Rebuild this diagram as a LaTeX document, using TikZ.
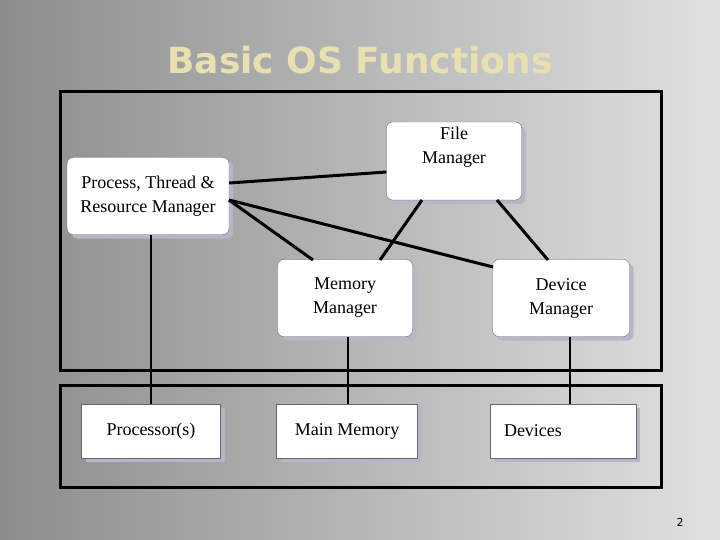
\documentclass[tikz,border=0pt]{standalone}
\usepackage{fontspec}
\setmainfont{Liberation Serif}
\newfontfamily\ttl{DejaVu Sans}
\usetikzlibrary{shadows}
\begin{document}
\begin{tikzpicture}[x=1pt,y=-1pt,
  box/.style={draw=black!60,fill=white,rounded corners=6pt,align=center,font=\fontsize{18}{24}\selectfont,
    drop shadow={shadow xshift=4pt,shadow yshift=-4pt,fill=blue!15!gray!50,opacity=1}},
  sq/.style={box,rounded corners=0pt},
  ln/.style={line width=3pt},
  frm/.style={draw=black,line width=3pt}]
\useasboundingbox (0,0) rectangle (720,540);
\shade[left color=black!45,right color=black!12] (0,0) rectangle (720,540);
\node[font=\ttl\fontsize{36}{38}\selectfont\bfseries,text={rgb,255:red,232;green,224;blue,176}] (title) at (360,60) {Basic OS Functions};
\draw[frm] (60,92) rectangle (661,370);
\draw[frm] (60,385) rectangle (661,487);
\node[box,minimum width=162pt,minimum height=77pt] (ptrm) at (148,196) {Process, Thread \&\\Resource Manager};
\node[box,minimum width=135pt,minimum height=78pt] (fm) at (454,161) {File\\Manager\\[8pt]};
\node[box,minimum width=135pt,minimum height=77pt] (mm) at (345,298) {Memory\\Manager};
\node[box,minimum width=137pt,minimum height=77pt] (dm) at (561,298) {Device\\Manager};
\node[sq,minimum width=139pt,minimum height=54pt] (pr) at (151,431) {Processor(s)};
\node[sq,minimum width=141pt,minimum height=54pt] (mem) at (347,431) {Main Memory};
\node[sq,minimum width=146pt,minimum height=54pt,text width=118pt,align=left] (dev) at (563,431) {Devices};
\draw[ln] (ptrm.east|-0,183) -- (fm.west|-0,172);
\draw[ln] (229,200) -- (313,260);
\draw[ln] (229,200) -- (493,267);
\draw[ln] (422,200) -- (380,260);
\draw[ln] (497,200) -- (548,260);
\draw[line width=2pt] (pr.north|-ptrm.south) -- (pr.north);
\draw[line width=2pt] (348,337) -- (348,404);
\draw[line width=2pt] (570,337) -- (570,404);
\node[font=\ttl\fontsize{11}{12}\selectfont] (pg) at (680,522) {2};
\end{tikzpicture}
\end{document}
